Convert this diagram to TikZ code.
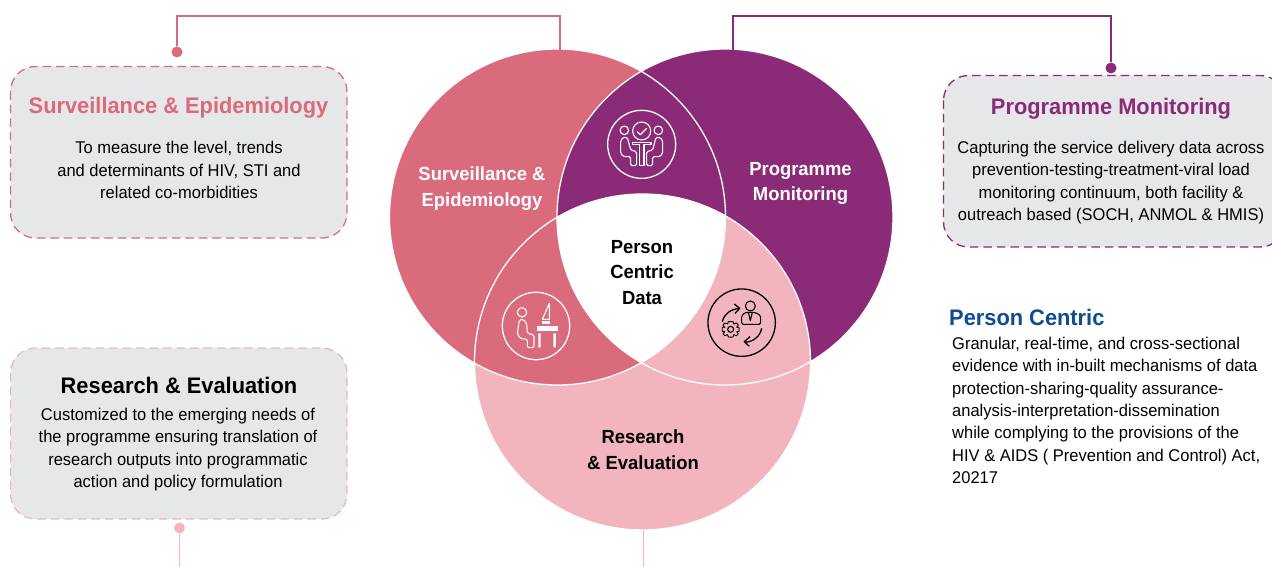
\documentclass[tikz,border=0pt]{standalone}
\usepackage{fontspec}
\setmainfont{Liberation Sans}
\newfontfamily\lab[FakeStretch=0.97]{Liberation Sans}
\definecolor{rose}{HTML}{D96B7C}
\definecolor{plum}{HTML}{8B2B77}
\definecolor{blush}{HTML}{F2B5BE}
\definecolor{panel}{HTML}{E6E7E9}
\definecolor{navy}{HTML}{0F4C92}
\tikzset{
  panelbox/.style={rounded corners=25pt,fill=panel,line width=1.3pt,dash pattern=on 8.5pt off 5pt},
  venn/.style={circle,minimum size=336pt,inner sep=0pt,outer sep=0pt},
  link/.style={line width=1.3pt},
  tip/.style={circle,minimum size=11pt,inner sep=0pt},
  body/.style={align=center,font=\lab\fontsize{17}{22.3}\selectfont,text=black},
  head/.style={font=\lab\bfseries\fontsize{22.5}{26}\selectfont},
  venntext/.style={align=center,font=\lab\bfseries\fontsize{19}{25.5}\selectfont},
  ic/.style={line width=1.1pt,line join=round}
}
\begin{document}
\begin{tikzpicture}[x=1pt,y=-1pt]
\useasboundingbox (0,0) rectangle (1272,567);
% venn
\node[venn,fill=rose] (L) at (557.5,217) {};
\node[venn,fill=plum] (R) at (725,217) {};
\node[venn,fill=blush] (B) at (642.5,362) {};
\begin{scope}
 \clip (L.center) circle (168);
 \fill[rose] (B.center) circle (168);
 \clip (R.center) circle (168);
 \fill[white] (B.center) circle (168);
\end{scope}
\draw[white,line width=1.3pt] (L.center) circle (168) (R.center) circle (168) (B.center) circle (168);
% connectors
\coordinate (c1a) at (177,16); \coordinate (c1b) at (560,16); \coordinate (c1e) at (560,50);
\coordinate (c2a) at (733,16); \coordinate (c2b) at (1111,16); \coordinate (c2s) at (733,50);
\coordinate (c3e) at (179.5,567); \coordinate (c4e) at (643.5,567); \coordinate (c4s) at (643.5,530);
\node[tip,fill=rose] (d1) at (177,52) {};
\node[tip,fill=plum] (d2) at (1111,68) {};
\node[tip,fill=blush] (d3) at (179.5,528) {};
\draw[link,rose] (d1) -- (c1a) -- (c1b) -- (c1e);
\draw[link,plum] (c2s) -- (c2a) -- (c2b) -- (d2);
\draw[link,blush] (d3) -- (c3e);
\draw[link,blush] (c4s) -- (c4e);
% panels
\draw[panelbox,draw=rose] (10.5,66.5) rectangle (347,238) ;
\draw[panelbox,draw=blush] (10.5,348) rectangle (347,519);
\draw[panelbox,draw=plum] (943.5,75.5) rectangle (1285,247);
\node[head,text=rose] (t1) at (178.5,108) {Surveillance \& Epidemiology};
\node[body] (b1) at (179,170) {To measure the level, trends\\and determinants of HIV, STI and\\related co-morbidities};
\node[head,text=black] (t2) at (179,385) {Research \& Evaluation};
\node[body] (b2) at (178,449.5) {Customized to the emerging needs of\\the programme ensuring translation of\\research outputs into programmatic\\action and policy formulation};
\node[head,text=plum] (t3) at (1111,109) {Programme Monitoring};
\node[body] (b3) at (1111,182.5) {Capturing the service delivery data across\\prevention-testing-treatment-viral load\\monitoring continuum, both facility \&\\outreach based (SOCH, ANMOL \& HMIS)};
\node[head,text=navy,anchor=west,inner sep=0pt] (t4) at (949,317) {Person Centric};
\node[body,align=left,anchor=north west,inner sep=0pt] (b4) at (952,337) {Granular, real-time, and cross-sectional\\evidence with in-built mechanisms of data\\protection-sharing-quality assurance-\\analysis-interpretation-dissemination\\while complying to the provisions of the\\HIV \& AIDS ( Prevention and Control) Act,\\20217};
% venn labels
\node[venntext,text=white] (v1) at (482,188.5) {Surveillance \&\\Epidemiology};
\node[venntext,text=white] (v2) at (800.5,183.5) {Programme\\Monitoring};
\node[venntext,text=black] (v3) at (642,272.5) {Person\\Centric\\Data};
\node[venntext,text=black] (v4) at (643,449.5) {Research\\\& Evaluation};
% icon top
\begin{scope}[shift={(590,100)},x=0.3333pt,y=-0.3333pt,ic,draw=white]
 \draw[line width=1.3pt] (155,133) circle (34pt);
 \draw (103,91) circle (4.3pt) (205,91) circle (4.3pt) (155,93) circle (9pt);
 \draw (141,95) -- (151,104) -- (170,85);
 \draw (127,127) -- (183,127) -- (183,134) -- (162,134) -- (162,197) -- (148,197) -- (148,134) -- (127,134) -- cycle;
 \draw[rounded corners=1.5pt] (100,112) -- (112,112) -- (122,150) -- (140,155) -- (140,197) -- (122,197) -- (122,170) -- (100,170) -- (92,160) -- (92,122) -- cycle;
 \draw[rounded corners=1.5pt] (210,112) -- (198,112) -- (188,150) -- (170,155) -- (170,197) -- (188,197) -- (188,170) -- (210,170) -- (218,160) -- (218,122) -- cycle;
\end{scope}
% icon left
\begin{scope}[shift={(490,280)},x=0.3333pt,y=-0.3333pt,ic,draw=white]
 \draw[line width=1.3pt] (138,138) circle (33.7pt);
 \draw (96,97) circle (4.7pt);
 \draw[rounded corners=1.5pt] (88,120) -- (100,118) -- (110,130) -- (112,160) -- (132,165) -- (132,203) -- (112,203) -- (112,178) -- (90,175) -- (82,160) -- cycle;
 \fill[white] (141,137) rectangle (203,152);
 \fill[white] (145,160) rectangle (152,202) (190,160) rectangle (198,202);
 \draw (157,118) -- (178,70) -- (178,118) -- cycle;
 \fill[white] (155,124) rectangle (181,131);
\end{scope}
% icon right
\begin{scope}[shift={(695,280)},x=0.3333pt,y=-0.3333pt,ic,draw=black]
 \draw[line width=1.3pt] (140,128) circle (33.7pt);
 \draw (166,78) circle (5pt);
 \draw[rounded corners=1.5pt] (140,133) -- (140,107) -- (152,97) -- (180,97) -- (197,107) -- (197,133) -- cycle;
 \draw (160,97) -- (166,122) -- (172,97);
 \draw[line width=1.3pt] (82,125) .. controls (88,100) and (108,88) .. (133,85);
 \draw[line width=1.3pt] (118,72) -- (134,85) -- (120,100);
 \draw[line width=1.3pt] (200,145) .. controls (195,170) and (175,185) .. (150,187);
 \draw[line width=1.3pt] (165,170) -- (148,185) -- (163,199);
 \draw (107,148) circle (3pt);
 \draw[line width=0.9pt] plot[smooth cycle,tension=0.3] coordinates {
  (100,125) (114,125) (116,132) (124,129) (130,135) (125,142) (132,142) (132,154) (125,155) (130,161) (124,167) (116,164) (114,171) (100,171) (98,164) (90,167) (84,161) (89,155) (82,154) (82,142) (89,142) (84,135) (90,129) (98,132)};
\end{scope}
\end{tikzpicture}
\end{document}
